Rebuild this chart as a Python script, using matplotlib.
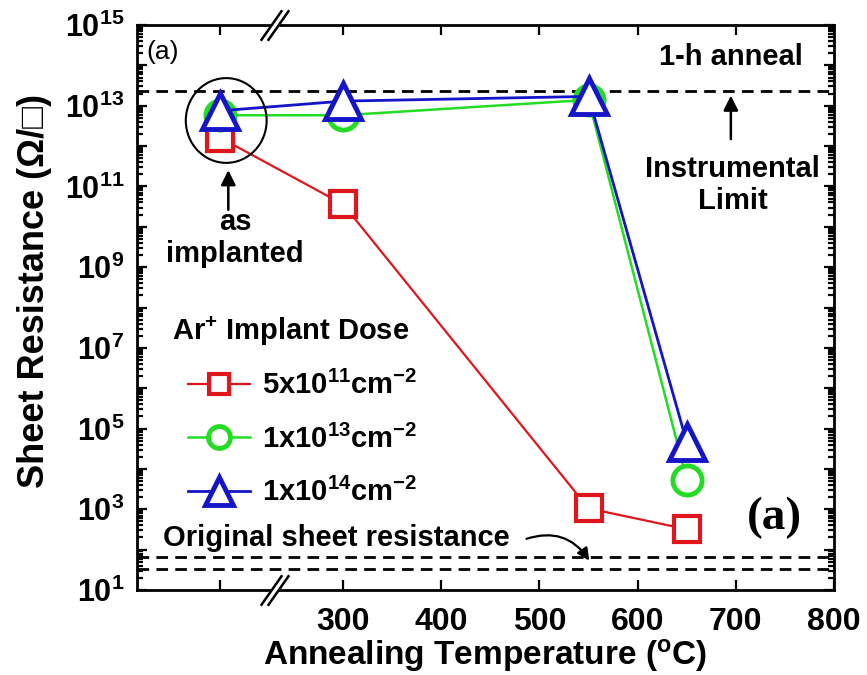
#!/usr/bin/env python3
# Sheet resistance vs annealing temperature for three Ar+ implant doses

import numpy as np
import matplotlib
matplotlib.use("Agg")
import matplotlib.pyplot as plt
from matplotlib.patches import Ellipse
from matplotlib.ticker import FixedLocator, FixedFormatter, LogLocator, NullFormatter

plt.rcParams.update({
    "font.family": ["Liberation Sans", "DejaVu Sans"],
    "font.weight": "bold",
    "axes.labelweight": "bold",
    "mathtext.default": "regular",
    "axes.linewidth": 2,
})

# data (x = 175 is the "as implanted" slot left of the axis break)
temps = [175, 300, 550, 650]
rs_5e11 = [1.6e12, 3.6e10, 1.05e3, 3.2e2]
rs_1e13 = [5.8e12, 5.8e12, 1.4e13, 5.4e3]
rs_1e14 = [7.5e12, 1.3e13, 1.7e13, 4.6e4]
dose_labels = [r"5x10$^{11}$cm$^{-2}$", r"1x10$^{13}$cm$^{-2}$", r"1x10$^{14}$cm$^{-2}$"]

instrument_limit = 2.3e13
original_rs = [66, 33]

x_ticks = [175, 300, 400, 500, 600, 700, 800]
x_ticklabels = ["", "300", "400", "500", "600", "700", "800"]
y_exps = list(range(1, 16))
y_ticklabels = [f"$10^{{{e}}}$" if e % 2 == 1 else "" for e in y_exps]
x_break = 230

red, green, blue = "#e0161c", "#22dd22", "#1414c8"

fig = plt.figure(figsize=(8.67, 6.75), dpi=100)
ax = fig.add_axes([137 / 867, 1 - 590 / 675, 697 / 867, 565 / 675])

l1, = ax.plot(temps, rs_5e11, color=red, lw=1.6, marker="s", ms=19, mew=3,
              mfc="white", mec=red, zorder=3)
l2, = ax.plot(temps, rs_1e13, color=green, lw=1.8, marker="o", ms=21, mew=3.5,
              mfc="white", mec=green, zorder=4)
l3, = ax.plot(temps, rs_1e14, color=blue, lw=2, marker="^", ms=26, mew=3.5,
              mfc="white", mec=blue, zorder=5)

ax.axhline(instrument_limit, color="k", lw=2, dashes=(4.2, 2.6), zorder=2)
for v in original_rs:
    ax.axhline(v, color="k", lw=2, dashes=(4.2, 2.6), zorder=2)

ax.set_yscale("log")
ax.set_xlim(90, 800)
ax.set_ylim(1e1, 1e15)

ax.xaxis.set_major_locator(FixedLocator(x_ticks))
ax.xaxis.set_major_formatter(FixedFormatter(x_ticklabels))
ax.yaxis.set_major_locator(FixedLocator([10.0 ** e for e in y_exps]))
ax.yaxis.set_major_formatter(FixedFormatter(y_ticklabels))
ax.yaxis.set_minor_locator(LogLocator(base=10, subs=np.arange(2, 10), numticks=100))
ax.yaxis.set_minor_formatter(NullFormatter())
ax.tick_params(which="both", direction="in", top=True, right=True, width=1.6)
ax.tick_params(which="major", length=7)
ax.tick_params(axis="y", which="major", labelsize=22, pad=9)
ax.tick_params(axis="x", which="major", labelsize=23, pad=12)
ax.tick_params(which="minor", length=4)

ax.set_xlabel(r"Annealing Temperature ($^{o}$C)", fontsize=24, labelpad=0)
ax.set_ylabel("Sheet Resistance (Ω/□)", fontsize=26)
ax.yaxis.set_label_coords(-0.122, 0.53)

# axis break marks on top and bottom spines
xf = ax.get_xaxis_transform()
for yb in (0, 1):
    ax.plot([x_break - 4, x_break + 4], [yb, yb], color="white", lw=4,
            transform=xf, clip_on=False, zorder=6, solid_capstyle="butt")
    ax.plot([x_break - 4, x_break + 4], [yb, yb], ls="none",
            marker=[(-0.7, -1), (0.7, 1)], ms=22, mew=1.8, mec="k",
            transform=xf, clip_on=False, zorder=7)

arrow = dict(arrowstyle="-|>", color="k", lw=1.8, mutation_scale=22)

# annotations
ax.add_patch(Ellipse((0.128, 0.831), 0.116, 0.150, transform=ax.transAxes,
                     fill=False, ec="k", lw=1.5, zorder=6))
ax.annotate("", xy=(0.131, 0.748), xytext=(0.131, 0.668),
            xycoords="axes fraction", arrowprops=arrow)
ax.text(0.141, 0.623, "as\nimplanted", transform=ax.transAxes, ha="center",
        va="center", fontsize=21, linespacing=1.2)

ax.text(0.852, 0.943, "1-h anneal", transform=ax.transAxes, ha="center",
        va="center", fontsize=21)
ax.annotate("", xy=(0.852, 0.880), xytext=(0.852, 0.793),
            xycoords="axes fraction", arrowprops=arrow)
ax.text(0.855, 0.717, "Instrumental\nLimit", transform=ax.transAxes, ha="center",
        va="center", fontsize=21, linespacing=1.15)

ax.text(0.014, 0.952, "(a)", transform=ax.transAxes, ha="left", va="center",
        fontsize=19, fontweight="normal")
ax.text(0.914, 0.127, "(a)", transform=ax.transAxes, ha="center", va="center",
        fontsize=34, fontweight="bold", family="Liberation Serif")

ax.text(0.038, 0.092, "Original sheet resistance", transform=ax.transAxes,
        ha="left", va="center", fontsize=21)
ax.annotate("", xy=(0.651, 0.048), xytext=(0.555, 0.089),
            xycoords="axes fraction",
            arrowprops=dict(arrowstyle="-|>", color="k", lw=1.6, mutation_scale=18,
                            connectionstyle="arc3,rad=-0.4"))

# legend: title as its own text so the entries sit indented under it
ax.text(0.050, 0.457, r"Ar$^{+}$ Implant Dose", transform=ax.transAxes,
        ha="left", va="center", fontsize=21)
leg = ax.legend([l1, l2, l3], dose_labels, loc="upper left",
                bbox_to_anchor=(0.073, 0.388), frameon=False, fontsize=21,
                handlelength=2.12, handletextpad=0.41, labelspacing=0.84,
                markerscale=0.75, borderaxespad=0, borderpad=0)

plt.savefig("out.png", dpi=100)
